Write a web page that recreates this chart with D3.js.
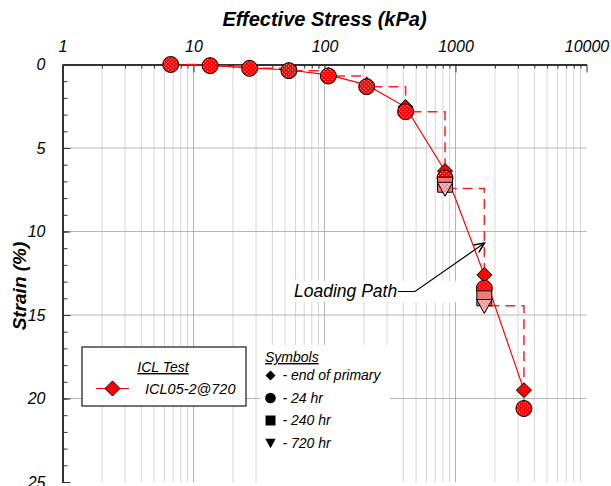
<!DOCTYPE html>
<html>
<head>
<meta charset="utf-8">
<script src="https://cdn.jsdelivr.net/npm/d3@7"></script>
<style>
  html, body { margin: 0; padding: 0; background: #fff; }
  svg { display: block; font-family: "Liberation Sans", Arial, sans-serif; }
</style>
</head>
<body>
<svg id="chart" width="611" height="486"></svg>
<script>
// Load increments (kPa) and measured strains (%) for test ICL05-2@720
const loads        = [6.7, 13.4, 26.8, 53.5, 107, 210, 416, 832, 1660, 3330];
const strainEOP    = [0.0, 0.05, 0.20, 0.33, 0.62, 1.22, 2.55, 6.38, 12.6, 19.5];
const strain24hr   = [0.0, 0.07, 0.23, 0.37, 0.69, 1.33, 2.83, 6.80, 13.4, 20.6];
const strain240hr  = [null, null, null, null, null, null, null, 7.20, 14.0, null];
const strain720hr  = [null, null, null, null, null, null, null, 7.43, 14.45, null];

const xTickLabels = ["1", "10", "100", "1000", "10000"];
const yTickLabels = ["0", "5", "10", "15", "20", "25"];

const svg = d3.select("#chart");
const plotL = 62.5, plotR = 586.5, plotT = 64.5, plotB = 482;

const x = d3.scaleLog().domain([1, 10000]).range([plotL, plotR]);
const y = d3.scaleLinear().domain([0, 25]).range([plotT, plotB]);

// ---- fill patterns for the markers ----
const defs = svg.append("defs");
const dots = defs.append("pattern").attr("id", "dots").attr("patternUnits", "userSpaceOnUse")
  .attr("width", 4).attr("height", 4);
dots.append("rect").attr("width", 4).attr("height", 4).attr("fill", "#ff0000");
dots.append("rect").attr("x", 1).attr("y", 1).attr("width", 1).attr("height", 1).attr("fill", "#ffd0d0");
dots.append("rect").attr("x", 3).attr("y", 3).attr("width", 1).attr("height", 1).attr("fill", "#ffd0d0");

const checks = defs.append("pattern").attr("id", "checks").attr("patternUnits", "userSpaceOnUse")
  .attr("width", 2).attr("height", 2);
checks.append("rect").attr("width", 2).attr("height", 2).attr("fill", "#f7b0b0");
checks.append("rect").attr("width", 1).attr("height", 1).attr("fill", "#e04848");
checks.append("rect").attr("x", 1).attr("y", 1).attr("width", 1).attr("height", 1).attr("fill", "#e04848");

const hatch = defs.append("pattern").attr("id", "hatch").attr("patternUnits", "userSpaceOnUse")
  .attr("width", 4).attr("height", 4);
hatch.append("rect").attr("width", 4).attr("height", 4).attr("fill", "#ee7c7c");
hatch.append("path").attr("d", "M0,0L4,4M4,0L0,4").attr("stroke", "#ffe6e6").attr("stroke-width", 0.8);

// ---- grid ----
const majorX = [10, 100, 1000];
const minorX = [];
for (let d = 1; d < 10000; d *= 10) for (let k = 2; k <= 9; k++) minorX.push(d * k);

const grid = svg.append("g");
grid.selectAll(".gxm").data(minorX).join("line")
  .attr("x1", d => x(d)).attr("x2", d => x(d)).attr("y1", plotT).attr("y2", plotB)
  .attr("stroke", "#d6d6d6").attr("stroke-width", 1);
grid.selectAll(".gxM").data(majorX).join("line")
  .attr("x1", d => x(d)).attr("x2", d => x(d)).attr("y1", plotT).attr("y2", plotB)
  .attr("stroke", "#b4b4b4").attr("stroke-width", 1);
grid.selectAll(".gy").data([5, 10, 15, 20]).join("line")
  .attr("x1", plotL).attr("x2", plotR).attr("y1", d => y(d)).attr("y2", d => y(d))
  .attr("stroke", "#b4b4b4").attr("stroke-width", 1);

// white backing behind the symbol key and the annotation
svg.append("rect").attr("x", 260).attr("y", 345).attr("width", 130).attr("height", 141).attr("fill", "#fff");
svg.append("rect").attr("x", 290).attr("y", 281).attr("width", 176).attr("height", 21).attr("fill", "#fff");

// ---- axes ----
const axisColor = "#333";
const xMinorAxis = d3.axisTop(x).tickValues(minorX).tickFormat("").tickSizeInner(-4).tickSizeOuter(0);
const xMajorAxis = d3.axisTop(x).tickValues([1, 10, 100, 1000, 10000])
  .tickFormat((d, i) => xTickLabels[i]).tickSizeInner(-8).tickSizeOuter(0).tickPadding(13);
const gxMinor = svg.append("g").attr("transform", `translate(0,${plotT})`).call(xMinorAxis);
const gxMajor = svg.append("g").attr("transform", `translate(0,${plotT})`).call(xMajorAxis);

const yMinorAxis = d3.axisLeft(y).tickValues(d3.range(0, 26, 1)).tickFormat("").tickSizeInner(-5).tickSizeOuter(0);
const yMajorAxis = d3.axisLeft(y).tickValues([0, 5, 10, 15, 20, 25])
  .tickFormat((d, i) => yTickLabels[i]).tickSizeInner(-8).tickSizeOuter(0).tickPadding(17);
const gyMinor = svg.append("g").attr("transform", `translate(${plotL},0)`).call(yMinorAxis);
const gyMajor = svg.append("g").attr("transform", `translate(${plotL},0)`).call(yMajorAxis);

[gxMinor, gxMajor, gyMinor, gyMajor].forEach(g => {
  g.selectAll("line").attr("stroke", axisColor).attr("stroke-width", 1);
  g.selectAll(".domain").attr("stroke", axisColor).attr("stroke-width", 2);
  g.selectAll("text").attr("font-family", "Liberation Sans, Arial, sans-serif")
    .attr("font-style", "italic").attr("font-size", 16).attr("fill", "#000");
});
gyMajor.selectAll("text").attr("dy", "0.32em");

// axis titles
svg.append("text").attr("x", (plotL + plotR) / 2).attr("y", 26)
  .attr("text-anchor", "middle").attr("font-size", 20).attr("font-weight", "bold")
  .attr("font-style", "italic").text("Effective Stress (kPa)");
svg.append("text").attr("transform", "translate(26,286) rotate(-90)")
  .attr("text-anchor", "middle").attr("font-size", 19).attr("font-weight", "bold")
  .attr("font-style", "italic").text("Strain (%)");

// ---- loading path (dashed staircase) ----
const finalStrain = loads.map((_, i) => {
  const vals = [strainEOP[i], strain24hr[i], strain240hr[i], strain720hr[i]].filter(v => v != null);
  return vals[vals.length - 1];
});
const pathPts = [];
loads.forEach((l, i) => {
  if (i > 0) pathPts.push([l, finalStrain[i - 1]]);
  pathPts.push([l, strainEOP[i]]);
  pathPts.push([l, finalStrain[i]]);
});
const line = d3.line().x(d => x(d[0])).y(d => y(d[1]));
svg.append("path").attr("d", line(pathPts)).attr("fill", "none")
  .attr("stroke", "#ff2020").attr("stroke-width", 1.5).attr("stroke-dasharray", "10,6");

// ---- series line through end-of-primary points ----
svg.append("path").attr("d", line(loads.map((l, i) => [l, strainEOP[i]])))
  .attr("fill", "none").attr("stroke", "#ff0000").attr("stroke-width", 1.2);

// ---- markers ----
const downTri = {
  draw(ctx, size) {
    const h = Math.sqrt(size);
    ctx.moveTo(-h * 0.55, -h * 0.45);
    ctx.lineTo(h * 0.55, -h * 0.45);
    ctx.lineTo(0, h * 0.55);
    ctx.closePath();
  }
};
const diamond = {
  draw(ctx, size) {
    const r = Math.sqrt(size) / 2;
    ctx.moveTo(0, -r); ctx.lineTo(r, 0); ctx.lineTo(0, r); ctx.lineTo(-r, 0); ctx.closePath();
  }
};
const series = [
  { vals: strainEOP,   shape: d3.symbol().type(diamond).size(225), fill: "#ff0000" },
  { vals: strain24hr,  shape: d3.symbol().type(d3.symbolCircle).size(Math.PI * 64), fill: "url(#dots)" },
  { vals: strain240hr, shape: d3.symbol().type(d3.symbolSquare).size(225), fill: "url(#checks)" },
  { vals: strain720hr, shape: d3.symbol().type(downTri).size(196), fill: "url(#hatch)" }
];
series.forEach(s => {
  const pts = loads.map((l, i) => [l, s.vals[i]]).filter(d => d[1] != null);
  svg.append("g").selectAll("path").data(pts).join("path")
    .attr("transform", d => `translate(${x(d[0])},${y(d[1])})`)
    .attr("d", s.shape()).attr("fill", s.fill).attr("stroke", "#000").attr("stroke-width", 1);
});

// ---- series legend box ----
svg.append("rect").attr("x", 82).attr("y", 347).attr("width", 164).attr("height", 59)
  .attr("fill", "#fff").attr("stroke", "#444").attr("stroke-width", 1.5);
svg.append("text").attr("x", 163).attr("y", 372).attr("text-anchor", "middle")
  .attr("font-size", 14).attr("font-style", "italic").attr("text-decoration", "underline")
  .text("ICL Test");
svg.append("line").attr("x1", 96).attr("x2", 129).attr("y1", 388.5).attr("y2", 388.5)
  .attr("stroke", "#ff0000").attr("stroke-width", 1.2);
svg.append("path").attr("transform", "translate(112.5,388.5)")
  .attr("d", d3.symbol().type(diamond).size(225)()).attr("fill", "#ff0000")
  .attr("stroke", "#000").attr("stroke-width", 1);
svg.append("text").attr("x", 145).attr("y", 393.5).attr("font-size", 14.5)
  .attr("font-style", "italic").text("ICL05-2@720");

// ---- symbol key ----
const keyLabels = ["- end of primary", "- 24 hr", "- 240 hr", "- 720 hr"];
const keyShapes = [diamond, d3.symbolCircle, d3.symbolSquare, downTri];
const keySizes = [100, 90, 100, 90];
svg.append("text").attr("x", 265).attr("y", 362).attr("font-size", 14)
  .attr("font-style", "italic").attr("text-decoration", "underline").text("Symbols");
keyLabels.forEach((t, i) => {
  const cy = 375.5 + i * 22.5;
  svg.append("path").attr("transform", `translate(270.5,${cy})`)
    .attr("d", d3.symbol().type(keyShapes[i]).size(keySizes[i])()).attr("fill", "#000");
  svg.append("text").attr("x", 282.5).attr("y", cy + 4.8).attr("font-size", 14)
    .attr("font-style", "italic").text(t);
});

// ---- annotation ----
svg.append("text").attr("x", 294).attr("y", 297).attr("font-size", 17.5)
  .attr("font-style", "italic").text("Loading Path");
const tip = [484.5, 243];
svg.append("path").attr("d", `M398,291.5H415L${tip[0]},${tip[1]}`)
  .attr("fill", "none").attr("stroke", "#000").attr("stroke-width", 1.2);
const ang = Math.atan2(tip[1] - 291.5, tip[0] - 415);
const ah = 11, spread = 0.42;
svg.append("path").attr("d",
  `M${tip[0] - ah * Math.cos(ang - spread)},${tip[1] - ah * Math.sin(ang - spread)}` +
  `L${tip[0]},${tip[1]}` +
  `L${tip[0] - ah * Math.cos(ang + spread)},${tip[1] - ah * Math.sin(ang + spread)}`)
  .attr("fill", "none").attr("stroke", "#000").attr("stroke-width", 1.5);
</script>
</body>
</html>
